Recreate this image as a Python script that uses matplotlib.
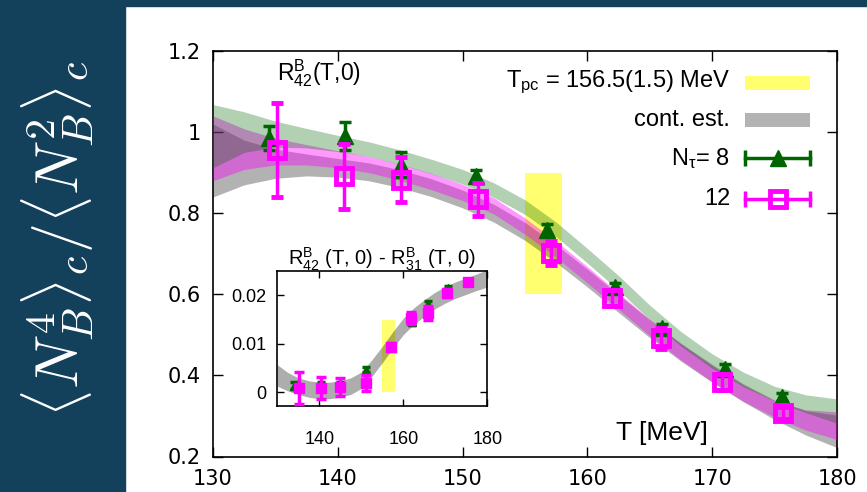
import numpy as np
import matplotlib
matplotlib.use("Agg")
import matplotlib.pyplot as plt
from matplotlib.patches import Rectangle

plt.rcParams["font.family"] = ["Liberation Sans", "DejaVu Sans"]
plt.rcParams["mathtext.fontset"] = "custom"
plt.rcParams["mathtext.rm"] = "Liberation Sans"
plt.rcParams["mathtext.it"] = "Liberation Sans:italic"

# -------- data --------
# R42 points, N_tau = 8
T_nt8 = [134.5, 140.6, 145.1, 151.1, 156.8, 162.2, 166.0, 171.0, 175.6]
R42_nt8 = [0.985, 0.99, 0.92, 0.891, 0.759, 0.619, 0.516, 0.417, 0.347]
R42_nt8_err = [0.03, 0.035, 0.03, 0.015, 0.015, 0.01, 0.01, 0.01, 0.01]

# R42 points, N_tau = 12
T_nt12 = [135.1, 140.5, 145.1, 151.2, 157.1, 162.0, 165.9, 170.8, 175.7]
R42_nt12 = [0.955, 0.891, 0.883, 0.834, 0.702, 0.59, 0.491, 0.384, 0.307]
R42_nt12_err = [0.116, 0.08, 0.056, 0.04, 0.03, 0.02, 0.025, 0.02, 0.015]

# spline bands (centre, half width) on a 2.5 MeV grid
T_band = [130.0, 132.5, 135.0, 137.5, 140.0, 142.5, 145.0, 147.5, 150.0, 152.5, 155.0,
          157.5, 160.0, 162.5, 165.0, 167.5, 170.0, 172.5, 175.0, 177.5, 180.0]
band8_mid = [0.99, 1.0, 0.995, 0.985, 0.972, 0.958, 0.938, 0.915, 0.89, 0.857, 0.815,
             0.76, 0.695, 0.628, 0.555, 0.49, 0.435, 0.39, 0.355, 0.33, 0.312]
band12_mid = [0.96, 0.958, 0.952, 0.944, 0.933, 0.92, 0.901, 0.878, 0.851, 0.818, 0.768,
              0.711, 0.648, 0.583, 0.518, 0.458, 0.404, 0.356, 0.317, 0.29, 0.276]
cont_mid = [0.93, 0.925, 0.922, 0.919, 0.912, 0.902, 0.885, 0.863, 0.835, 0.8, 0.755,
            0.7, 0.64, 0.577, 0.515, 0.457, 0.405, 0.357, 0.315, 0.283, 0.262]
band8_half = [0.078, 0.05, 0.032, 0.024, 0.02, 0.018, 0.018, 0.018, 0.018, 0.018, 0.018,
              0.018, 0.018, 0.018, 0.018, 0.018, 0.018, 0.018, 0.018, 0.022, 0.03]
band12_half = [0.08, 0.05, 0.033, 0.025, 0.021, 0.02, 0.02, 0.02, 0.02, 0.02, 0.02,
               0.02, 0.02, 0.02, 0.02, 0.02, 0.02, 0.02, 0.02, 0.025, 0.034]
cont_half = [0.09, 0.055, 0.036, 0.027, 0.023, 0.022, 0.022, 0.022, 0.022, 0.022, 0.022,
             0.022, 0.022, 0.022, 0.022, 0.022, 0.022, 0.022, 0.024, 0.03, 0.04]

# pseudo-critical temperature 156.5(1.5) MeV
T_pc = 156.5
T_pc_err = 1.5

# inset: R42 - R31
T_in8 = [134.0, 140.4, 145.0, 151.0, 157.0, 162.0, 165.8, 170.6, 175.5]
d_nt8 = [0.0014, 0.0013, 0.0014, 0.0047, 0.0094, 0.0145, 0.0182, 0.0214, 0.0228]
d_nt8_err = [0.0008, 0.0008, 0.0008, 0.0006, 0.0006, 0.0006, 0.0006, 0.0006, 0.0005]
T_in12 = [135.1, 140.5, 145.0, 151.0, 157.1, 161.9, 165.8, 170.5, 175.5]
d_nt12 = [0.0010, 0.0009, 0.0011, 0.0019, 0.0094, 0.0153, 0.0164, 0.0204, 0.0227]
d_nt12_err = [0.0033, 0.0023, 0.0019, 0.0017, 0.0008, 0.0013, 0.0014, 0.0008, 0.0005]
d_cont_mid = [0.0035, 0.0022, 0.0013, 0.0007, 0.0004, 0.0004, 0.0007, 0.0013, 0.0025,
              0.005, 0.0078, 0.0108, 0.0136, 0.0157, 0.0174, 0.0189, 0.0201, 0.0211,
              0.0219, 0.0227, 0.0235]
d_cont_half = [0.0022, 0.0019, 0.0017, 0.0017, 0.0017, 0.0017, 0.0017, 0.0017, 0.0017,
               0.0017, 0.0017, 0.0017, 0.0017, 0.0017, 0.0017, 0.0017, 0.0017, 0.0017,
               0.0017, 0.0017, 0.0018]

x_ticks = [130, 140, 150, 160, 170, 180]
y_ticks = [0.2, 0.4, 0.6, 0.8, 1.0, 1.2]
y_ticklabels = ["0.2", "0.4", "0.6", "0.8", "1", "1.2"]
inset_x_ticks = [140, 160, 180]
inset_y_ticks = [0.0, 0.01, 0.02]
inset_y_ticklabels = ["0", "0.01", "0.02"]

GREEN = "#006400"
MAGENTA = "#ff00ff"
YELLOW = "#ffff70"
PANEL = "#13405a"


def band(ax, mid, half, color, alpha, z):
    mid = np.asarray(mid)
    half = np.asarray(half)
    ax.fill_between(T_band, mid - half, mid + half, color=color, alpha=alpha,
                    lw=0, zorder=z)


fig = plt.figure(figsize=(8.67, 4.92), dpi=100)

# dark frame on the left and across the top
fig.patches.append(Rectangle((0, 0), 125 / 867, 1, transform=fig.transFigure,
                             color=PANEL, zorder=0))
fig.patches.append(Rectangle((0, 1 - 6 / 492), 1, 6 / 492, transform=fig.transFigure,
                             color=PANEL, zorder=0))
fig.text(0.066, 0.515, r"$\langle N_B^4\rangle_c/\langle N_B^2\rangle_c$",
         rotation=90, color="white", fontsize=43, ha="center", va="center",
         math_fontfamily="cm")

ax = fig.add_axes([213 / 867, 1 - 456.5 / 492, 624 / 867, 405.5 / 492])
ax.set_xlim(130, 180)
ax.set_ylim(0.2, 1.2)

ax.fill_between([T_pc - T_pc_err, T_pc + T_pc_err], 0.6, 0.9, color=YELLOW, lw=0, zorder=1)
band(ax, cont_mid, cont_half, "black", 0.3, 2)
band(ax, band12_mid, band12_half, MAGENTA, 0.4, 3)
band(ax, band8_mid, band8_half, GREEN, 0.3, 4)

ax.errorbar(T_nt8, R42_nt8, yerr=R42_nt8_err, fmt="^", color=GREEN, ms=11,
            elinewidth=2.5, capsize=4, capthick=2.5, zorder=5)
ax.errorbar(T_nt12, R42_nt12, yerr=R42_nt12_err, fmt="s", color=MAGENTA, mfc="none",
            ms=12, mew=3.5, elinewidth=2.5, capsize=4, capthick=2.5, zorder=6)

ax.set_xticks(x_ticks)
ax.set_yticks(y_ticks, y_ticklabels)
ax.tick_params(direction="in", length=7, width=1, top=True, right=True,
               labelsize=15, pad=9)
for lab in ax.get_xticklabels() + ax.get_yticklabels():
    lab.set_fontfamily("DejaVu Sans")
for s in ax.spines.values():
    s.set_linewidth(1.2)

ax.text(0.103, 0.946, r"R$^{\mathrm{B}}_{42}$(T,0)", transform=ax.transAxes,
        fontsize=16.5, ha="left", va="center")
ax.text(0.72, 0.058, "T [MeV]", transform=ax.transAxes, fontsize=19,
        ha="center", va="center")

# key, drawn by hand in axes fraction
key_x = 0.829
sx0, sx1 = 0.853, 0.957
rows = [0.922, 0.829, 0.735, 0.636]
ax.text(key_x, rows[0], r"T$_{\mathrm{pc}}$ = 156.5(1.5) MeV", transform=ax.transAxes,
        fontsize=17, ha="right", va="center")
ax.add_patch(Rectangle((sx0, rows[0] - 0.017), sx1 - sx0, 0.034, transform=ax.transAxes,
                       color=YELLOW, lw=0, clip_on=False))
ax.text(key_x, rows[1], "cont. est.", transform=ax.transAxes, fontsize=17,
        ha="right", va="center")
ax.add_patch(Rectangle((sx0, rows[1] - 0.017), sx1 - sx0, 0.034, transform=ax.transAxes,
                       color="#b3b3b3", lw=0, clip_on=False))
ax.text(key_x, rows[2], r"N$_{\mathrm{τ}}$= 8", transform=ax.transAxes, fontsize=17,
        ha="right", va="center")
ax.text(key_x, rows[3], "12", transform=ax.transAxes, fontsize=17,
        ha="right", va="center")
for y, col, mk, kw in [(rows[2], GREEN, "^", dict(ms=11)),
                       (rows[3], MAGENTA, "s", dict(ms=12, mfc="none", mew=3.5))]:
    ax.plot([sx0, sx1], [y, y], color=col, lw=2.5, transform=ax.transAxes,
            clip_on=False, zorder=7)
    ax.plot([sx0, sx1], [y, y], ls="none", marker="|", ms=11, mew=2.5, color=col,
            transform=ax.transAxes, clip_on=False, zorder=7)
    ax.plot([(sx0 + sx1) / 2], [y], ls="none", marker=mk, color=col,
            transform=ax.transAxes, clip_on=False, zorder=8, **kw)

# inset
ins = fig.add_axes([277.3 / 867, 1 - 406 / 492, 210 / 867, 135 / 492])
ins.set_xlim(130, 180)
ins.set_ylim(-0.0028, 0.025)
ins.fill_between([T_pc - T_pc_err, T_pc + T_pc_err], 0.0, 0.015, color=YELLOW,
                 lw=0, zorder=1)
mid = np.asarray(d_cont_mid)
half = np.asarray(d_cont_half)
ins.fill_between(T_band, mid - half, mid + half, color="black", alpha=0.32, lw=0, zorder=2)
ins.errorbar(T_in8, d_nt8, yerr=d_nt8_err, fmt="^", color=GREEN, ms=6,
             elinewidth=2, capsize=3, capthick=2.5, zorder=5)
ins.errorbar(T_in12, d_nt12, yerr=d_nt12_err, fmt="s", color=MAGENTA, ms=7.5,
             elinewidth=2.5, capsize=3.5, capthick=2.5, zorder=6)
ins.set_xticks(inset_x_ticks)
ins.set_yticks(inset_y_ticks, inset_y_ticklabels)
ins.tick_params(direction="in", length=5, width=1, top=True, right=True,
                labelsize=13, pad=8)
ins.tick_params(axis="x", pad=18)
ins.set_title(r"R$^{\mathrm{B}}_{42}$ (T, 0) - R$^{\mathrm{B}}_{31}$ (T, 0)",
              fontsize=14.5, pad=4)
for s in ins.spines.values():
    s.set_linewidth(1.2)

fig.savefig("out.png", dpi=100)
